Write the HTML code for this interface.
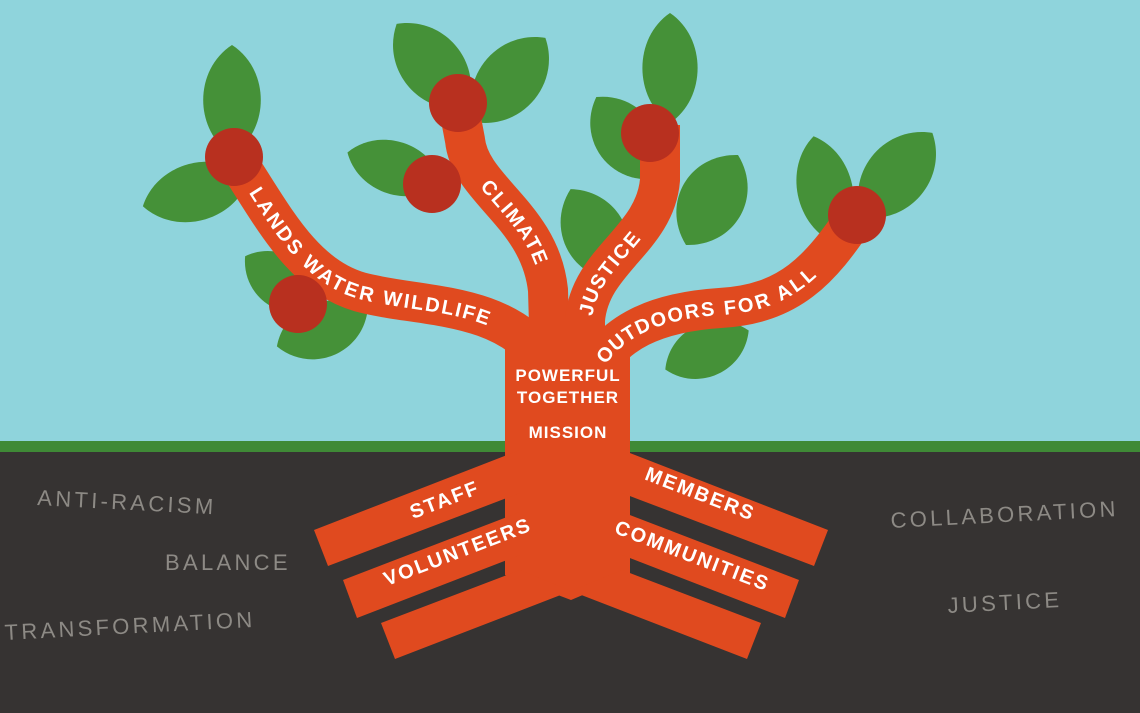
<!DOCTYPE html>
<html><head><meta charset="utf-8"><style>
html,body{margin:0;padding:0;width:1140px;height:713px;overflow:hidden;background:#8fd4dc}
svg{display:block}
.b{fill:#fff;font-family:"Liberation Sans",sans-serif;font-weight:bold;font-size:20px;letter-spacing:2px}
.g{fill:#8d8a85;font-family:"Liberation Sans",sans-serif;font-size:22px;letter-spacing:3.3px}
</style></head><body>
<svg width="1140" height="713" viewBox="0 0 1140 713" xmlns="http://www.w3.org/2000/svg">
<defs>
<path id="lf" d="M0,-1 C0.8,-0.55 0.8,0.55 0,1 C-0.8,0.55 -0.8,-0.55 0,-1Z"/>
</defs>
<rect x="0" y="0" width="1140" height="445" fill="#8fd4dc"/>
<rect x="0" y="441" width="1140" height="12" fill="#3f8a36"/>
<rect x="0" y="452" width="1140" height="261" fill="#363332"/>
<g fill="#459138">
<use href="#lf" transform="translate(232,100) scale(48,55)"/>
<use href="#lf" transform="translate(196,192) rotate(75) scale(48,55)"/>
<use href="#lf" transform="translate(282,282) rotate(-55) scale(44,45)"/>
<use href="#lf" transform="translate(322,330) rotate(70) scale(46,48)"/>
<use href="#lf" transform="translate(432,66) rotate(-40) scale(52,55)"/>
<use href="#lf" transform="translate(510,80) rotate(40) scale(52,55)"/>
<use href="#lf" transform="translate(395,168) rotate(-72) scale(44,50)"/>
<use href="#lf" transform="translate(670,68) scale(46,55)"/>
<use href="#lf" transform="translate(625,138) rotate(-35) scale(50,50)"/>
<use href="#lf" transform="translate(712,200) rotate(30) scale(54,52)"/>
<use href="#lf" transform="translate(595,235) rotate(-28) scale(52,52)"/>
<use href="#lf" transform="translate(825,190) rotate(-12) scale(46,55)"/>
<use href="#lf" transform="translate(897,175) rotate(40) scale(52,55)"/>
<use href="#lf" transform="translate(707,350) rotate(65) scale(44,46)"/>
</g>
<g fill="none" stroke="#e04a1f" stroke-width="40">
<path id="p1" d="M234,157 C270,210 300,275 360,292 C420,308 500,300 545,360"/>
<path id="p2" d="M458,103 L465,140 C470,190 540,215 548,290 L550,360"/>
<path id="p3" d="M585,360 L585,320 C590,260 655,240 660,180 L660,125"/>
<path id="p4" d="M590,380 C610,330 660,312 720,308 C790,304 820,270 857,215"/>
</g>
<g fill="#e04a1f">
<polygon points="505,330 630,330 630,575 571,600 505,575"/>
<polygon points="314,530 520,450 520,493 328,566"/>
<polygon points="343,580 520,512 520,555 357,618"/>
<polygon points="381,623 520,570 571,591 395,659"/>
<polygon points="828,530 622,450 622,493 814,566"/>
<polygon points="799,580 622,512 622,555 785,618"/>
<polygon points="761,623 622,570 571,591 747,659"/>
</g>
<g fill="#b8301f">
<circle cx="234" cy="157" r="29"/>
<circle cx="458" cy="103" r="29"/>
<circle cx="432" cy="184" r="29"/>
<circle cx="298" cy="304" r="29"/>
<circle cx="650" cy="133" r="29"/>
<circle cx="857" cy="215" r="29"/>
</g>
<text class="b" dy="7"><textPath href="#p1" startOffset="38">LANDS WATER WILDLIFE</textPath></text>
<text class="b" dy="7"><textPath href="#p2" startOffset="85">CLIMATE</textPath></text>
<text class="b" dy="7"><textPath href="#p3" startOffset="45">JUSTICE</textPath></text>
<text class="b" dy="7"><textPath href="#p4" startOffset="22">OUTDOORS FOR ALL</textPath></text>
<g class="b" style="font-size:17px;letter-spacing:1px" text-anchor="middle">
<text x="568" y="381">POWERFUL</text>
<text x="568" y="403">TOGETHER</text>
<text x="568" y="438">MISSION</text>
</g>
<g class="b" text-anchor="middle">
<text transform="translate(447,506) rotate(-21)">STAFF</text>
<text transform="translate(460,558) rotate(-21)">VOLUNTEERS</text>
<text transform="translate(698,500) rotate(21)">MEMBERS</text>
<text transform="translate(690,562) rotate(21)">COMMUNITIES</text>
</g>
<text class="g" transform="translate(37,505) rotate(3)">ANTI-RACISM</text>
<text class="g" x="165" y="570">BALANCE</text>
<text class="g" transform="translate(5,640) rotate(-3)">TRANSFORMATION</text>
<text class="g" transform="translate(891,528) rotate(-3)">COLLABORATION</text>
<text class="g" transform="translate(948,613) rotate(-3)">JUSTICE</text>
</svg>
</body></html>
